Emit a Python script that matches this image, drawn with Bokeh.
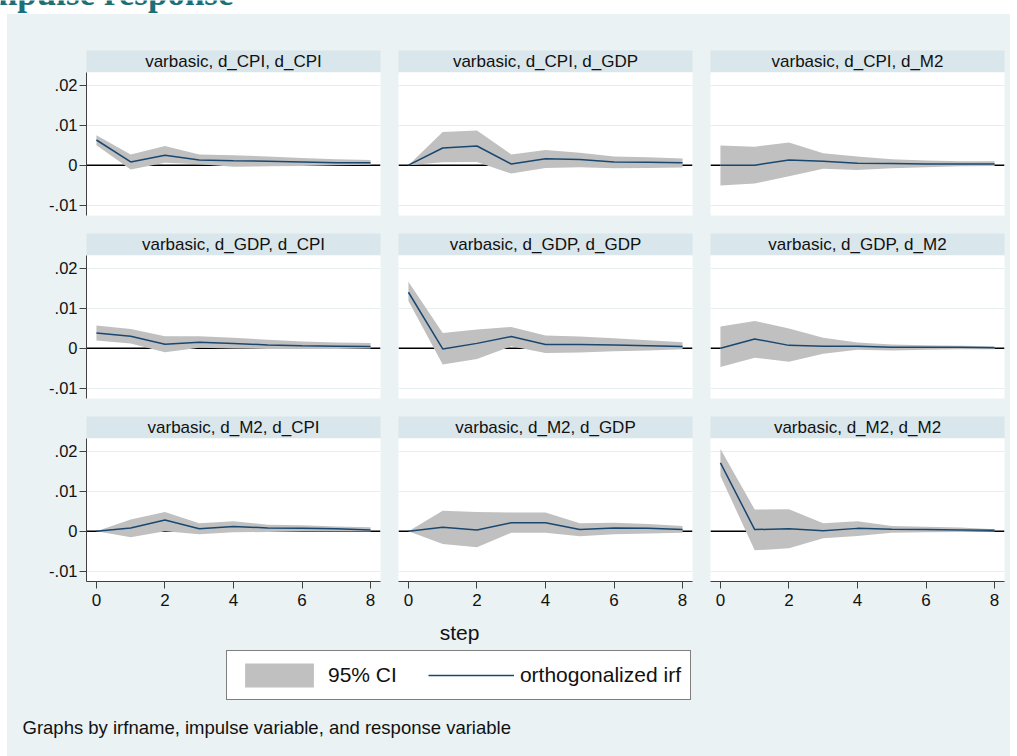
from bokeh.plotting import figure
from bokeh.models import (Range1d, FixedTicker, Span, Label, Legend, LegendItem,
                          ColumnDataSource, Spacer, LinearAxis, Grid)
from bokeh.layouts import row, column
from bokeh.embed import file_html
from bokeh.resources import INLINE

# ---------------- data ----------------
steps = [0, 1, 2, 3, 4, 5, 6, 7, 8]
irf_name = "varbasic"
impulses = ["d_CPI", "d_GDP", "d_M2"]
responses = ["d_CPI", "d_GDP", "d_M2"]
y_ticks = [-0.01, 0, 0.01, 0.02]
y_tick_labels = ["-.01", "0", ".01", ".02"]
x_ticks = [0, 2, 4, 6, 8]
x_title = "step"
legend_labels = ["95% CI", "orthogonalized irf"]
note_text = "Graphs by irfname, impulse variable, and response variable"
page_heading = "Impulse response"

cpi_cpi_irf = [0.0063, 0.0008, 0.0025, 0.0013, 0.0011, 0.0010, 0.0008, 0.0006, 0.0006]
cpi_cpi_hi = [0.0075, 0.0027, 0.0048, 0.0027, 0.0025, 0.0022, 0.0018, 0.0015, 0.0013]
cpi_cpi_lo = [0.0050, -0.0011, 0.0006, 0.0002, -0.0004, -0.0003, -0.0002, 0.0000, 0.0001]

cpi_gdp_irf = [0.0, 0.0043, 0.0048, 0.0003, 0.0016, 0.0014, 0.0008, 0.0007, 0.0006]
cpi_gdp_hi = [0.0, 0.0083, 0.0087, 0.0027, 0.0038, 0.0031, 0.0022, 0.0020, 0.0017]
cpi_gdp_lo = [0.0, 0.0007, 0.0008, -0.0021, -0.0007, -0.0005, -0.0008, -0.0007, -0.0006]

cpi_m2_irf = [0.0, 0.0, 0.0013, 0.0010, 0.0005, 0.0004, 0.0003, 0.0003, 0.0003]
cpi_m2_hi = [0.0049, 0.0046, 0.0057, 0.0030, 0.0022, 0.0015, 0.0012, 0.0010, 0.0010]
cpi_m2_lo = [-0.0051, -0.0046, -0.0028, -0.0009, -0.0012, -0.0008, -0.0005, -0.0003, -0.0002]

gdp_cpi_irf = [0.0038, 0.0030, 0.0010, 0.0015, 0.0012, 0.0008, 0.0006, 0.0005, 0.0004]
gdp_cpi_hi = [0.0057, 0.0048, 0.0030, 0.0030, 0.0026, 0.0021, 0.0017, 0.0014, 0.0013]
gdp_cpi_lo = [0.0019, 0.0012, -0.0010, 0.0001, -0.0001, -0.0002, -0.0002, -0.0002, -0.0001]

gdp_gdp_irf = [0.0140, -0.0002, 0.0012, 0.0029, 0.0009, 0.0009, 0.0008, 0.0006, 0.0004]
gdp_gdp_hi = [0.0166, 0.0038, 0.0047, 0.0053, 0.0032, 0.0029, 0.0025, 0.0020, 0.0015]
gdp_gdp_lo = [0.0118, -0.0041, -0.0027, 0.0005, -0.0012, -0.0011, -0.0008, -0.0006, -0.0003]

gdp_m2_irf = [0.0, 0.0023, 0.0007, 0.0005, 0.0005, 0.0002, 0.0002, 0.0002, 0.0001]
gdp_m2_hi = [0.0054, 0.0068, 0.0049, 0.0026, 0.0014, 0.0009, 0.0007, 0.0006, 0.0005]
gdp_m2_lo = [-0.0047, -0.0024, -0.0034, -0.0014, -0.0004, -0.0006, -0.0004, -0.0003, -0.0003]

m2_cpi_irf = [0.0, 0.0008, 0.0028, 0.0006, 0.0012, 0.0008, 0.0007, 0.0006, 0.0003]
m2_cpi_hi = [0.0, 0.0029, 0.0048, 0.0020, 0.0025, 0.0016, 0.0015, 0.0012, 0.0010]
m2_cpi_lo = [0.0, -0.0015, 0.0000, -0.0008, -0.0003, -0.0002, -0.0001, -0.0001, -0.0001]

m2_gdp_irf = [0.0, 0.0010, 0.0003, 0.0021, 0.0021, 0.0004, 0.0008, 0.0007, 0.0004]
m2_gdp_hi = [0.0, 0.0051, 0.0048, 0.0047, 0.0047, 0.0020, 0.0021, 0.0018, 0.0013]
m2_gdp_lo = [0.0, -0.0032, -0.0040, -0.0004, -0.0004, -0.0013, -0.0008, -0.0006, -0.0004]

m2_m2_irf = [0.0171, 0.0004, 0.0006, 0.0001, 0.0007, 0.0005, 0.0004, 0.0003, 0.0002]
m2_m2_hi = [0.0206, 0.0054, 0.0055, 0.0020, 0.0025, 0.0013, 0.0011, 0.0009, 0.0005]
m2_m2_lo = [0.0138, -0.0048, -0.0043, -0.0018, -0.0012, -0.0004, -0.0003, -0.0002, -0.0001]

panels = {
    ("d_CPI", "d_CPI"): (cpi_cpi_irf, cpi_cpi_lo, cpi_cpi_hi),
    ("d_CPI", "d_GDP"): (cpi_gdp_irf, cpi_gdp_lo, cpi_gdp_hi),
    ("d_CPI", "d_M2"): (cpi_m2_irf, cpi_m2_lo, cpi_m2_hi),
    ("d_GDP", "d_CPI"): (gdp_cpi_irf, gdp_cpi_lo, gdp_cpi_hi),
    ("d_GDP", "d_GDP"): (gdp_gdp_irf, gdp_gdp_lo, gdp_gdp_hi),
    ("d_GDP", "d_M2"): (gdp_m2_irf, gdp_m2_lo, gdp_m2_hi),
    ("d_M2", "d_CPI"): (m2_cpi_irf, m2_cpi_lo, m2_cpi_hi),
    ("d_M2", "d_GDP"): (m2_gdp_irf, m2_gdp_lo, m2_gdp_hi),
    ("d_M2", "d_M2"): (m2_m2_irf, m2_m2_lo, m2_m2_hi),
}

# ---------------- style ----------------
BG = "#EAF2F3"
STRIP = "#D9E6EB"
BAND = "#C0C0C0"
NAVY = "#1A476F"
GRID = "#E6EEF0"
AXIS = "#404040"
TEAL = "#1B6F77"
FONT = "Liberation Sans"

FRAME_W = 294
FRAME_H = 143
STRIP_H = 22
LEFTS = [79, 9, 9]
RIGHTS = [9, 9, 6]
STRIP_TOPS = [36, 9, 9]
PLOT_BOTTOMS = [9, 9, 34]


def strip_fig(i, j):
    f = figure(width=LEFTS[j] + FRAME_W + RIGHTS[j], height=STRIP_TOPS[i] + STRIP_H,
               x_range=Range1d(0, 1), y_range=Range1d(0, 1),
               x_axis_type=None, y_axis_type=None, toolbar_location=None,
               output_backend="svg", title_location=None,
               min_border_left=LEFTS[j], min_border_right=RIGHTS[j],
               min_border_top=STRIP_TOPS[i], min_border_bottom=0,
               background_fill_color=STRIP, border_fill_color=BG,
               outline_line_color=None)
    f.add_layout(Label(x=0.5, y=0.5, text=f"{irf_name}, {impulses[i]}, {responses[j]}",
                       text_align="center", text_baseline="middle",
                       text_font=FONT, text_font_size="17px", text_color="#111111"))
    return f


def plot_fig(i, j):
    irf, lo, hi = panels[(impulses[i], responses[j])]
    f = figure(width=LEFTS[j] + FRAME_W + RIGHTS[j], height=FRAME_H + PLOT_BOTTOMS[i],
               x_range=Range1d(-0.29, 8.29), y_range=Range1d(-0.0126, 0.0232),
               x_axis_type=None, y_axis_type=None, toolbar_location=None,
               output_backend="svg", title_location=None,
               min_border_left=LEFTS[j], min_border_right=RIGHTS[j],
               min_border_top=0, min_border_bottom=PLOT_BOTTOMS[i],
               background_fill_color="white", border_fill_color=BG,
               outline_line_color=None)
    f.add_layout(Grid(dimension=1, ticker=FixedTicker(ticks=y_ticks),
                      grid_line_color=GRID, grid_line_width=1))
    f.add_layout(Span(location=0, dimension="width", line_color="black",
                      line_width=1.5, level="underlay"))
    src = ColumnDataSource(dict(step=steps, irf=irf, lo=lo, hi=hi))
    f.varea(x="step", y1="lo", y2="hi", source=src, fill_color=BAND)
    f.line(x="step", y="irf", source=src, line_color=NAVY, line_width=1.5)
    if j == 0:
        ya = LinearAxis(ticker=FixedTicker(ticks=y_ticks),
                        major_label_overrides={t: l for t, l in zip(y_ticks, y_tick_labels)},
                        axis_line_color=AXIS, major_tick_line_color=AXIS,
                        major_tick_out=7, major_tick_in=0, minor_tick_out=0, minor_tick_in=0,
                        major_label_standoff=2,
                        major_label_text_font=FONT, major_label_text_font_size="16.5px",
                        major_label_text_color="#111111")
        f.add_layout(ya, "left")
    if i == 2:
        xa = LinearAxis(ticker=FixedTicker(ticks=x_ticks),
                        axis_line_color=AXIS, major_tick_line_color=AXIS,
                        major_tick_out=7, major_tick_in=0, minor_tick_out=0, minor_tick_in=0,
                        major_label_standoff=5,
                        major_label_text_font=FONT, major_label_text_font_size="17px",
                        major_label_text_color="#111111")
        f.add_layout(xa, "below")
    return f


cols = []
for j in range(3):
    items = []
    for i in range(3):
        items.append(strip_fig(i, j))
        items.append(plot_fig(i, j))
    cols.append(column(*items, spacing=0, styles={"background-color": BG}))

grid = row(*cols, spacing=0, styles={"background-color": BG})

# bottom: axis title, legend, note (coordinates are page pixels)
bottom = figure(width=1003, height=141,
                x_range=Range1d(7, 1010), y_range=Range1d(756, 615),
                x_axis_type=None, y_axis_type=None, toolbar_location=None,
                output_backend="svg", title_location=None,
                min_border_left=0, min_border_right=0, min_border_top=0, min_border_bottom=0,
                background_fill_color=BG, border_fill_color=BG, outline_line_color=None)
bottom.add_layout(Label(x=459, y=632, text=x_title, text_align="center", text_baseline="middle",
                        text_font=FONT, text_font_size="21px", text_color="#111111"))
bottom.add_layout(Label(x=22, y=727, text=note_text, text_align="left", text_baseline="middle",
                        text_font=FONT, text_font_size="18.5px", text_color="#111111"))
legend_src = ColumnDataSource(dict(step=steps, irf=m2_m2_irf, lo=m2_m2_lo, hi=m2_m2_hi))
r_band = bottom.varea(x="step", y1="lo", y2="hi", source=legend_src, fill_color=BAND)
r_line = bottom.line(x="step", y="irf", source=legend_src, line_color=NAVY, line_width=1.5)
legend = Legend(items=[LegendItem(label=legend_labels[0], renderers=[r_band]),
                       LegendItem(label=legend_labels[1], renderers=[r_line])],
                orientation="horizontal", location=(219, 56),
                border_line_color="black", border_line_width=1,
                background_fill_color="white", background_fill_alpha=1.0,
                padding=9, spacing=31, margin=0,
                glyph_width=86, glyph_height=30, label_standoff=6, label_height=30,
                label_text_font=FONT, label_text_font_size="21px", label_text_color="#111111")
bottom.add_layout(legend)

inner = column(grid, bottom, spacing=0, styles={"background-color": BG})

# top white band with the (cropped) page heading
top = figure(width=1017, height=14,
             x_range=Range1d(0, 1017), y_range=Range1d(14, 0),
             x_axis_type=None, y_axis_type=None, toolbar_location=None,
             output_backend="svg", title_location=None,
             min_border_left=0, min_border_right=0, min_border_top=0, min_border_bottom=0,
             background_fill_color="white", border_fill_color="white", outline_line_color=None)
top.add_layout(Label(x=233, y=-7, text=page_heading, text_align="right", text_baseline="alphabetic",
                     text_font="Liberation Serif", text_font_style="bold",
                     text_font_size="35px", text_color=TEAL))

layout = column(top, row(Spacer(width=7, height=742), inner, Spacer(width=7, height=742), spacing=0),
                spacing=0)

open("out.html", "w").write(file_html(layout, INLINE))
